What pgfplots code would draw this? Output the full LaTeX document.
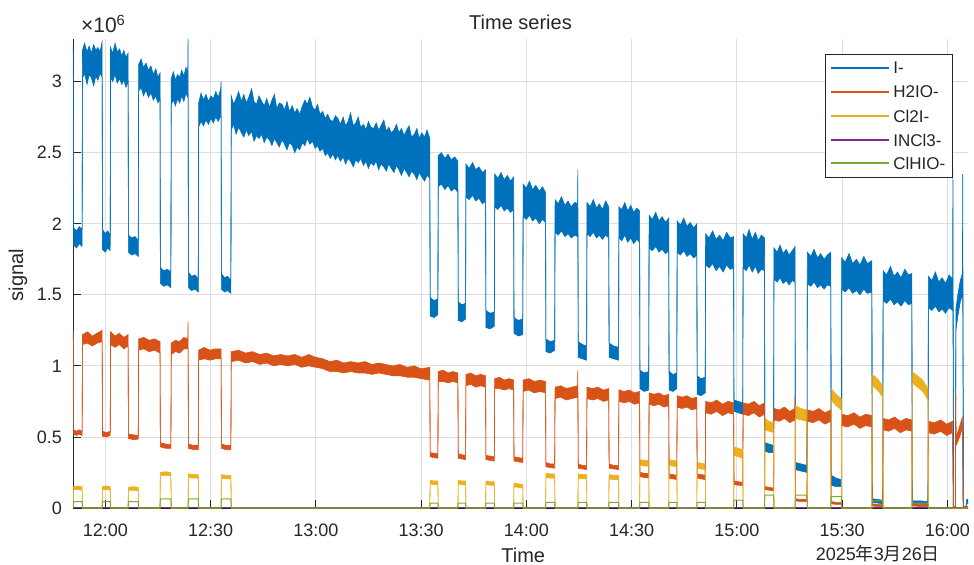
\documentclass[border=0pt]{standalone}
\usepackage{pgfplots}
\pgfplotsset{compat=1.18}
\usepgfplotslibrary{fillbetween}
\usepackage{fontspec}
\setmainfont{Liberation Sans}
\newfontfamily\cjk{Noto Sans CJK SC}
\definecolor{cI}{rgb}{0,0.447,0.741}
\definecolor{cH}{rgb}{0.85,0.325,0.098}
\definecolor{cC}{rgb}{0.929,0.694,0.125}
\definecolor{cN}{rgb}{0.494,0.184,0.556}
\definecolor{cG}{rgb}{0.466,0.674,0.188}
\definecolor{axc}{rgb}{0.15,0.15,0.15}
\begin{document}
\begin{tikzpicture}
\begin{axis}[
 at={(0,0)}, anchor=south west,
 scale only axis, width=447.5pt, height=234.5pt,
 xmin=-9.2, xmax=245.9, ymin=0, ymax=3.3,
 axis x line*=bottom, axis y line*=left,
 axis line style={-, draw=axc, line width=0.4pt},
 xtick={0,30,...,240},
 xticklabels={12:00,12:30,13:00,13:30,14:00,14:30,15:00,15:30,16:00},
 ytick={0,0.5,1,1.5,2,2.5,3}, yticklabels={0,0.5,1,1.5,2,2.5,3},
 tick align=inside, major tick length=4pt,
 tick style={draw=axc, line width=0.4pt},
 grid=major, major grid style={draw=black!13, line width=0.4pt},
 ticklabel style={font=\fontsize{9}{10}\selectfont, text=axc},
 xticklabel style={anchor=base, yshift=-14.5pt},
 yticklabel style={anchor=east, xshift=-2pt},
 clip=false,
]
% ---------------- I- ----------------
\addplot[name path=IU, draw=cI, line width=0.3pt, forget plot] coordinates {
(-9.12,3.25) (-9.0,1.97) (-8.2,1.95) (-7.4,1.98) (-6.6,1.96)
(-6.5,3.22) (-5.9,3.27) (-5.2,3.21) (-4.6,3.25) (-4.0,3.20) (-3.3,3.26) (-2.7,3.22) (-2.1,3.24) (-1.5,3.21) (-0.9,3.28)
(-0.8,1.96) (0.0,1.93) (0.7,1.95) (1.4,1.92)
(1.5,3.24) (2.1,3.20) (2.8,3.27) (3.4,3.21) (4.1,3.23) (4.7,3.18) (5.3,3.22) (5.9,3.17) (6.5,3.20)
(6.6,1.92) (7.5,1.90) (8.5,1.91) (9.4,1.88)
(9.5,3.12) (10.2,3.16) (10.9,3.10) (11.6,3.13) (12.3,3.08) (13.0,3.11) (13.7,3.05) (14.4,3.09) (15.0,3.03) (15.6,3.06)
(15.7,1.69) (16.7,1.67) (17.7,1.68) (18.7,1.66)
(18.8,3.02) (19.4,3.07) (20.0,3.01) (20.6,3.05) (21.2,3.03) (21.8,3.08) (22.4,3.04) (23.0,3.10) (23.5,3.06) (23.6,3.30)
(23.7,1.66) (24.6,1.63) (25.6,1.64) (26.5,1.61)
(26.6,2.85) (27.3,2.92) (28.0,2.87) (28.7,2.91) (29.4,2.86) (30.1,2.90) (30.8,2.88) (31.5,2.93) (32.2,2.89) (32.9,2.95) (33.0,3.00)
(33.1,1.65) (34.0,1.62) (34.9,1.63) (35.8,1.60)
(35.9,2.90) (36.6,2.84) (37.3,2.88) (38.0,2.93) (38.8,2.86) (39.5,2.91) (40.2,2.85) (40.9,2.89) (41.7,2.95) (42.4,2.86) (43.1,2.84) (43.8,2.90) (44.6,2.86) (45.3,2.83) (46.0,2.88) (46.8,2.82) (47.5,2.87) (48.2,2.91) (48.9,2.81) (49.6,2.85) (50.4,2.84) (51.1,2.80) (51.8,2.86) (52.5,2.79) (53.3,2.83) (54.0,2.78) (54.7,2.81) (55.4,2.77) (56.2,2.83) (56.9,2.87) (57.6,2.84) (58.3,2.89) (59.1,2.82) (59.8,2.80) (60.5,2.84) (61.2,2.77) (62.0,2.79) (62.7,2.74) (63.4,2.77) (64.1,2.73) (64.9,2.72) (65.6,2.76) (66.3,2.74) (67.0,2.70) (67.8,2.75) (68.5,2.69) (69.2,2.72) (69.9,2.78) (70.7,2.69) (71.4,2.71) (72.1,2.75) (72.8,2.68) (73.6,2.70) (74.3,2.66) (75.0,2.72) (75.7,2.68) (76.5,2.67) (77.2,2.71) (77.9,2.66) (78.6,2.69) (79.4,2.73) (80.1,2.65) (80.8,2.68) (81.5,2.64) (82.3,2.66) (83.0,2.70) (83.7,2.64) (84.4,2.67) (85.2,2.62) (85.9,2.66) (86.6,2.69) (87.3,2.61) (88.1,2.63) (88.8,2.67) (89.5,2.60) (90.2,2.64) (91.0,2.61) (91.7,2.66) (92.5,2.60)
(92.6,1.48) (93.7,1.46) (94.8,1.47)
(94.9,2.48) (95.8,2.50) (96.8,2.46) (97.7,2.49) (98.6,2.45) (99.6,2.47) (100.5,2.44)
(100.6,1.45) (101.6,1.43) (102.7,1.44)
(102.8,2.42) (103.7,2.39) (104.7,2.43) (105.6,2.38) (106.5,2.40) (107.5,2.36) (108.4,2.38)
(108.5,1.39) (109.7,1.37) (110.9,1.38)
(111.0,2.35) (111.9,2.32) (112.8,2.36) (113.7,2.31) (114.6,2.34) (115.5,2.30) (116.4,2.33)
(116.5,1.34) (117.7,1.32) (119.0,1.33)
(119.1,2.28) (120.0,2.25) (120.9,2.30) (121.8,2.24) (122.7,2.27) (123.7,2.23) (124.6,2.26) (125.5,2.22)
(125.6,1.19) (126.8,1.17) (128.1,1.18)
(128.2,2.17) (129.1,2.14) (130.0,2.19) (131.0,2.13) (131.9,2.16) (132.8,2.12) (133.8,2.15) (134.6,2.14) (134.7,2.38)
(134.8,1.17) (136.0,1.15) (137.2,1.14)
(137.3,2.15) (138.2,2.12) (139.1,2.17) (140.0,2.11) (140.8,2.14) (141.7,2.10) (142.6,2.16) (143.5,2.12)
(143.6,1.16) (144.9,1.14) (146.3,1.13)
(146.4,2.12) (147.2,2.10) (148.1,2.15) (148.9,2.09) (149.8,2.13) (150.6,2.08) (151.5,2.11) (152.3,2.09)
(152.4,0.97) (153.6,0.95) (154.9,0.96)
(155.0,2.06) (155.9,2.03) (156.9,2.08) (157.8,2.02) (158.7,2.05) (159.7,2.01) (160.6,2.04)
(160.7,0.96) (161.8,0.94) (162.9,0.95)
(163.0,2.02) (163.9,1.99) (164.9,2.04) (165.8,1.98) (166.7,2.01) (167.7,1.97) (168.6,2.00)
(168.7,0.93) (169.8,0.91) (171.0,0.92)
(171.1,1.93) (172.1,1.90) (173.1,1.95) (174.1,1.89) (175.1,1.92) (176.1,1.88) (177.1,1.94) (178.1,1.90) (179.1,1.91)
(179.2,0.76) (180.4,0.75) (181.7,0.74)
(181.8,1.93) (182.7,1.90) (183.5,1.96) (184.4,1.89) (185.3,1.94) (186.1,1.88) (187.0,1.92) (187.9,1.90)
(188.0,0.46) (189.2,0.45) (190.5,0.44)
(190.6,1.83) (191.5,1.80) (192.3,1.85) (193.2,1.79) (194.1,1.82) (194.9,1.78) (195.8,1.81) (196.6,1.84)
(196.7,0.32) (198.3,0.31) (200.0,0.30)
(200.1,1.80) (201.1,1.77) (202.0,1.82) (203.0,1.76) (203.9,1.79) (204.9,1.75) (205.8,1.78) (206.8,1.80)
(206.9,0.23) (208.3,0.21) (209.8,0.20)
(209.9,1.76) (210.9,1.73) (212.0,1.79) (213.0,1.72) (214.1,1.75) (215.1,1.71) (216.2,1.77) (217.2,1.72) (218.5,1.74)
(218.6,0.065) (220.1,0.06) (221.6,0.055)
(221.7,1.67) (222.7,1.64) (223.8,1.70) (224.8,1.63) (225.8,1.66) (226.8,1.62) (227.9,1.68) (228.9,1.64) (229.9,1.65)
(230.0,0.05) (232.2,0.05) (234.5,0.045)
(234.6,1.63) (235.6,1.60) (236.6,1.66) (237.6,1.59) (238.5,1.62) (239.5,1.58) (240.5,1.64) (241.5,1.61)
(241.6,2.39) (241.8,0.01) (242.3,0.01) (242.45,1.40) (243.0,1.50) (243.7,1.60) (244.3,1.65) (244.4,2.35) (244.6,0.01) (245.3,0.01) (245.5,0.06) (245.9,0.06)
};
\addplot[name path=IL, draw=cI, line width=0.3pt, forget plot] coordinates {
(-9.12,3.10) (-9.0,1.85) (-8.2,1.83) (-7.4,1.86) (-6.6,1.84)
(-6.5,3.02) (-5.9,3.06) (-5.2,2.98) (-4.6,3.05) (-4.0,3.03) (-3.3,2.97) (-2.7,3.04) (-2.1,3.01) (-1.5,3.06) (-0.9,3.03)
(-0.8,1.82) (0.0,1.80) (0.7,1.83) (1.4,1.81)
(1.5,3.03) (2.1,3.00) (2.8,3.05) (3.4,2.99) (4.1,3.02) (4.7,2.98) (5.3,3.01) (5.9,2.96) (6.5,3.00)
(6.6,1.80) (7.5,1.78) (8.5,1.79) (9.4,1.77)
(9.5,2.93) (10.2,2.96) (10.9,2.90) (11.6,2.94) (12.3,2.89) (13.0,2.92) (13.7,2.87) (14.4,2.90) (15.0,2.85) (15.6,2.88)
(15.7,1.58) (16.7,1.56) (17.7,1.57) (18.7,1.55)
(18.8,2.84) (19.4,2.87) (20.0,2.83) (20.6,2.88) (21.2,2.85) (21.8,2.90) (22.4,2.86) (23.0,2.92) (23.5,2.89) (23.6,2.92)
(23.7,1.55) (24.6,1.53) (25.6,1.54) (26.5,1.52)
(26.6,2.68) (27.3,2.72) (28.0,2.69) (28.7,2.73) (29.4,2.70) (30.1,2.74) (30.8,2.71) (31.5,2.75) (32.2,2.72) (32.9,2.76) (33.0,2.76)
(33.1,1.54) (34.0,1.52) (34.9,1.53) (35.8,1.51)
(35.9,2.66) (36.6,2.70) (37.3,2.63) (38.0,2.68) (38.8,2.64) (39.5,2.61) (40.2,2.66) (40.9,2.62) (41.7,2.65) (42.4,2.58) (43.1,2.62) (43.8,2.60) (44.6,2.63) (45.3,2.57) (46.0,2.61) (46.8,2.59) (47.5,2.55) (48.2,2.60) (48.9,2.57) (49.6,2.54) (50.4,2.59) (51.1,2.56) (51.8,2.52) (52.5,2.57) (53.3,2.55) (54.0,2.50) (54.7,2.54) (55.4,2.52) (56.2,2.57) (56.9,2.55) (57.6,2.60) (58.3,2.56) (59.1,2.58) (59.8,2.53) (60.5,2.55) (61.2,2.51) (62.0,2.53) (62.7,2.48) (63.4,2.50) (64.1,2.46) (64.9,2.49) (65.6,2.45) (66.3,2.48) (67.0,2.44) (67.8,2.47) (68.5,2.42) (69.2,2.46) (69.9,2.44) (70.7,2.40) (71.4,2.45) (72.1,2.43) (72.8,2.46) (73.6,2.41) (74.3,2.44) (75.0,2.39) (75.7,2.43) (76.5,2.41) (77.2,2.44) (77.9,2.38) (78.6,2.42) (79.4,2.40) (80.1,2.37) (80.8,2.42) (81.5,2.39) (82.3,2.36) (83.0,2.41) (83.7,2.38) (84.4,2.34) (85.2,2.39) (85.9,2.36) (86.6,2.33) (87.3,2.37) (88.1,2.35) (88.8,2.31) (89.5,2.36) (90.2,2.33) (91.0,2.30) (91.7,2.34) (92.5,2.32)
(92.6,1.35) (93.7,1.34) (94.8,1.36)
(94.9,2.26) (95.8,2.28) (96.8,2.24) (97.7,2.27) (98.6,2.23) (99.6,2.25) (100.5,2.22)
(100.6,1.32) (101.6,1.31) (102.7,1.33)
(102.8,2.19) (103.7,2.17) (104.7,2.20) (105.6,2.16) (106.5,2.18) (107.5,2.14) (108.4,2.16)
(108.5,1.27) (109.7,1.26) (110.9,1.28)
(111.0,2.12) (111.9,2.10) (112.8,2.13) (113.7,2.09) (114.6,2.11) (115.5,2.08) (116.4,2.10)
(116.5,1.23) (117.7,1.21) (119.0,1.22)
(119.1,2.05) (120.0,2.03) (120.9,2.06) (121.8,2.02) (122.7,2.04) (123.7,2.00) (124.6,2.03) (125.5,2.01)
(125.6,1.10) (126.8,1.09) (128.1,1.11)
(128.2,1.94) (129.1,1.92) (130.0,1.95) (131.0,1.91) (131.9,1.93) (132.8,1.90) (133.8,1.92) (134.6,1.91) (134.7,1.92)
(134.8,1.06) (136.0,1.05) (137.2,1.04)
(137.3,1.93) (138.2,1.91) (139.1,1.94) (140.0,1.90) (140.8,1.92) (141.7,1.89) (142.6,1.92) (143.5,1.90)
(143.6,1.06) (144.9,1.05) (146.3,1.04)
(146.4,1.90) (147.2,1.88) (148.1,1.92) (148.9,1.87) (149.8,1.90) (150.6,1.86) (151.5,1.89) (152.3,1.87)
(152.4,0.84) (153.6,0.82) (154.9,0.83)
(155.0,1.83) (155.9,1.81) (156.9,1.84) (157.8,1.80) (158.7,1.82) (159.7,1.79) (160.6,1.81)
(160.7,0.83) (161.8,0.82) (162.9,0.84)
(163.0,1.80) (163.9,1.78) (164.9,1.81) (165.8,1.77) (166.7,1.79) (167.7,1.76) (168.6,1.78)
(168.7,0.80) (169.8,0.79) (171.0,0.81)
(171.1,1.71) (172.1,1.69) (173.1,1.72) (174.1,1.67) (175.1,1.70) (176.1,1.66) (177.1,1.71) (178.1,1.68) (179.1,1.69)
(179.2,0.68) (180.4,0.67) (181.7,0.66)
(181.8,1.69) (182.7,1.67) (183.5,1.71) (184.4,1.66) (185.3,1.70) (186.1,1.65) (187.0,1.68) (187.9,1.67)
(188.0,0.40) (189.2,0.39) (190.5,0.39)
(190.6,1.61) (191.5,1.59) (192.3,1.62) (193.2,1.58) (194.1,1.60) (194.9,1.57) (195.8,1.60) (196.6,1.59)
(196.7,0.27) (198.3,0.26) (200.0,0.25)
(200.1,1.58) (201.1,1.56) (202.0,1.59) (203.0,1.55) (203.9,1.57) (204.9,1.54) (205.8,1.57) (206.8,1.56)
(206.9,0.16) (208.3,0.15) (209.8,0.15)
(209.9,1.54) (210.9,1.52) (212.0,1.55) (213.0,1.51) (214.1,1.53) (215.1,1.50) (216.2,1.54) (217.2,1.51) (218.5,1.52)
(218.6,0.04) (220.1,0.035) (221.6,0.03)
(221.7,1.46) (222.7,1.44) (223.8,1.47) (224.8,1.43) (225.8,1.45) (226.8,1.42) (227.9,1.46) (228.9,1.43) (229.9,1.44)
(230.0,0.03) (232.2,0.03) (234.5,0.025)
(234.6,1.41) (235.6,1.39) (236.6,1.42) (237.6,1.38) (238.5,1.40) (239.5,1.37) (240.5,1.41) (241.5,1.39)
(241.6,1.40) (241.8,0.0) (242.3,0.0) (242.45,1.25) (243.0,1.35) (243.7,1.45) (244.3,1.50) (244.4,1.50) (244.6,0.0) (245.3,0.0) (245.5,0.03) (245.9,0.03)
};
\addplot[fill=cI, draw=none, forget plot] fill between[of=IU and IL];
% ---------------- H2IO- ----------------
\addplot[name path=HU, draw=cH, line width=0.3pt, forget plot] coordinates {
(-9.12,1.25) (-9.0,0.55) (-8.2,0.54) (-7.4,0.55) (-6.6,0.54)
(-6.5,1.22) (-5.1,1.24) (-3.7,1.21) (-2.3,1.23) (-0.9,1.25)
(-0.8,0.54) (0.3,0.53) (1.4,0.54)
(1.5,1.24) (2.8,1.21) (4.0,1.23) (5.3,1.20) (6.5,1.22)
(6.6,0.52) (8.0,0.515) (9.4,0.51)
(9.5,1.19) (11.0,1.20) (12.5,1.18) (14.1,1.19) (15.6,1.17)
(15.7,0.46) (17.2,0.45) (18.7,0.445)
(18.8,1.16) (20.0,1.18) (21.2,1.17) (22.4,1.20) (23.5,1.19) (23.6,1.31)
(23.7,0.45) (25.1,0.44) (26.5,0.44)
(26.6,1.11) (28.2,1.13) (29.8,1.11) (31.4,1.12) (33.0,1.12)
(33.1,0.45) (34.5,0.44) (35.8,0.44)
(35.9,1.10) (38.0,1.11) (40.0,1.09) (42.0,1.10) (44.0,1.08) (46.0,1.09) (48.0,1.07) (50.0,1.08) (52.0,1.07) (54.0,1.08) (56.0,1.06) (58.0,1.08) (60.0,1.06) (62.0,1.05) (64.0,1.03) (66.0,1.04) (68.0,1.02) (70.0,1.03) (72.0,1.02) (74.0,1.03) (76.0,1.01) (78.0,1.02) (80.0,1.01) (82.0,1.00) (84.0,1.01) (86.0,0.99) (88.0,1.00) (90.0,0.98) (92.5,0.99)
(92.6,0.39) (93.7,0.385) (94.8,0.38)
(94.9,0.96) (96.3,0.97) (97.7,0.95) (99.1,0.96) (100.5,0.95)
(100.6,0.38) (101.6,0.375) (102.7,0.37)
(102.8,0.94) (104.2,0.95) (105.6,0.93) (107.0,0.94) (108.4,0.93)
(108.5,0.37) (109.7,0.365) (110.9,0.36)
(111.0,0.91) (112.4,0.92) (113.7,0.90) (115.1,0.91) (116.4,0.90)
(116.5,0.36) (117.7,0.355) (119.0,0.35)
(119.1,0.90) (120.7,0.91) (122.3,0.89) (123.9,0.90) (125.5,0.89)
(125.6,0.32) (126.8,0.31) (128.1,0.31)
(128.2,0.85) (129.8,0.86) (131.4,0.84) (133.0,0.85) (134.6,0.86) (134.7,0.97)
(134.8,0.31) (136.0,0.30) (137.2,0.30)
(137.3,0.85) (138.9,0.84) (140.4,0.85) (142.0,0.83) (143.5,0.84)
(143.6,0.31) (144.9,0.30) (146.3,0.30)
(146.4,0.83) (147.9,0.82) (149.4,0.83) (150.8,0.81) (152.3,0.82)
(152.4,0.25) (153.6,0.245) (154.9,0.24)
(155.0,0.81) (156.4,0.80) (157.8,0.81) (159.2,0.79) (160.6,0.80)
(160.7,0.24) (161.8,0.235) (162.9,0.23)
(163.0,0.79) (164.4,0.78) (165.8,0.79) (167.2,0.77) (168.6,0.78)
(168.7,0.24) (169.8,0.235) (171.0,0.23)
(171.1,0.75) (172.7,0.74) (174.3,0.76) (175.9,0.73) (177.5,0.75) (179.1,0.74)
(179.2,0.19) (180.4,0.185) (181.7,0.18)
(181.8,0.74) (183.3,0.73) (184.9,0.75) (186.4,0.72) (187.9,0.74)
(188.0,0.15) (189.2,0.145) (190.5,0.14)
(190.6,0.70) (192.1,0.69) (193.6,0.71) (195.1,0.68) (196.5,0.70) (196.6,0.79)
(196.7,0.065) (198.3,0.06) (200.0,0.06)
(200.1,0.69) (201.8,0.68) (203.4,0.70) (205.1,0.67) (206.8,0.69)
(206.9,0.045) (208.3,0.04) (209.8,0.04)
(209.9,0.66) (211.6,0.65) (213.4,0.67) (215.1,0.64) (216.8,0.66) (218.5,0.65)
(218.6,0.03) (220.1,0.025) (221.6,0.025)
(221.7,0.63) (223.3,0.62) (225.0,0.64) (226.6,0.61) (228.3,0.63) (229.9,0.62)
(230.0,0.03) (232.2,0.025) (234.5,0.025)
(234.6,0.61) (236.3,0.60) (238.1,0.62) (239.8,0.59) (241.5,0.61)
(241.7,0.01) (242.3,0.01) (242.4,0.80) (242.5,0.50) (243.2,0.55) (243.8,0.60) (244.3,0.64) (244.5,0.01) (245.9,0.01)
};
\addplot[name path=HL, draw=cH, line width=0.3pt, forget plot] coordinates {
(-9.12,1.21) (-9.0,0.52) (-8.2,0.51) (-7.4,0.52) (-6.6,0.51)
(-6.5,1.15) (-5.1,1.16) (-3.7,1.14) (-2.3,1.16) (-0.9,1.17)
(-0.8,0.505) (0.3,0.50) (1.4,0.51)
(1.5,1.15) (2.8,1.13) (4.0,1.15) (5.3,1.12) (6.5,1.14)
(6.6,0.49) (8.0,0.48) (9.4,0.485)
(9.5,1.11) (11.0,1.12) (12.5,1.10) (14.1,1.11) (15.6,1.09)
(15.7,0.43) (17.2,0.42) (18.7,0.42)
(18.8,1.08) (20.0,1.10) (21.2,1.09) (22.4,1.12) (23.5,1.12) (23.6,1.12)
(23.7,0.42) (25.1,0.41) (26.5,0.41)
(26.6,1.04) (28.2,1.05) (29.8,1.04) (31.4,1.05) (33.0,1.05)
(33.1,0.42) (34.5,0.41) (35.8,0.41)
(35.9,1.03) (38.0,1.04) (40.0,1.02) (42.0,1.03) (44.0,1.01) (46.0,1.02) (48.0,1.00) (50.0,1.01) (52.0,1.00) (54.0,1.01) (56.0,0.99) (58.0,1.00) (60.0,0.99) (62.0,0.98) (64.0,0.96) (66.0,0.96) (68.0,0.95) (70.0,0.96) (72.0,0.95) (74.0,0.95) (76.0,0.94) (78.0,0.95) (80.0,0.94) (82.0,0.93) (84.0,0.93) (86.0,0.92) (88.0,0.92) (90.0,0.91) (92.5,0.90)
(92.6,0.36) (93.7,0.355) (94.8,0.35)
(94.9,0.89) (96.3,0.89) (97.7,0.88) (99.1,0.89) (100.5,0.88)
(100.6,0.35) (101.6,0.345) (102.7,0.34)
(102.8,0.86) (104.2,0.87) (105.6,0.85) (107.0,0.86) (108.4,0.85)
(108.5,0.34) (109.7,0.335) (110.9,0.33)
(111.0,0.84) (112.4,0.84) (113.7,0.83) (115.1,0.84) (116.4,0.83)
(116.5,0.33) (117.7,0.325) (119.0,0.32)
(119.1,0.82) (120.7,0.83) (122.3,0.81) (123.9,0.82) (125.5,0.81)
(125.6,0.29) (126.8,0.285) (128.1,0.28)
(128.2,0.77) (129.8,0.78) (131.4,0.76) (133.0,0.77) (134.6,0.78) (134.7,0.78)
(134.8,0.28) (136.0,0.275) (137.2,0.27)
(137.3,0.77) (138.9,0.76) (140.4,0.77) (142.0,0.75) (143.5,0.76)
(143.6,0.28) (144.9,0.275) (146.3,0.27)
(146.4,0.75) (147.9,0.74) (149.4,0.75) (150.8,0.73) (152.3,0.74)
(152.4,0.22) (153.6,0.215) (154.9,0.21)
(155.0,0.73) (156.4,0.72) (157.8,0.73) (159.2,0.71) (160.6,0.72)
(160.7,0.21) (161.8,0.205) (162.9,0.20)
(163.0,0.71) (164.4,0.70) (165.8,0.71) (167.2,0.69) (168.6,0.70)
(168.7,0.21) (169.8,0.205) (171.0,0.20)
(171.1,0.67) (172.7,0.66) (174.3,0.68) (175.9,0.65) (177.5,0.67) (179.1,0.66)
(179.2,0.165) (180.4,0.16) (181.7,0.16)
(181.8,0.66) (183.3,0.65) (184.9,0.67) (186.4,0.64) (187.9,0.66)
(188.0,0.13) (189.2,0.125) (190.5,0.12)
(190.6,0.62) (192.1,0.61) (193.6,0.63) (195.1,0.60) (196.5,0.62) (196.6,0.62)
(196.7,0.05) (198.3,0.045) (200.0,0.045)
(200.1,0.61) (201.8,0.60) (203.4,0.62) (205.1,0.59) (206.8,0.61)
(206.9,0.03) (208.3,0.025) (209.8,0.025)
(209.9,0.58) (211.6,0.57) (213.4,0.59) (215.1,0.56) (216.8,0.58) (218.5,0.57)
(218.6,0.015) (220.1,0.01) (221.6,0.01)
(221.7,0.55) (223.3,0.54) (225.0,0.56) (226.6,0.53) (228.3,0.55) (229.9,0.54)
(230.0,0.015) (232.2,0.01) (234.5,0.01)
(234.6,0.53) (236.3,0.52) (238.1,0.54) (239.8,0.51) (241.5,0.53)
(241.7,0.0) (242.3,0.0) (242.4,0.78) (242.5,0.44) (243.2,0.48) (243.8,0.52) (244.3,0.57) (244.5,0.0) (245.9,0.0)
};
\addplot[fill=cH, draw=none, forget plot] fill between[of=HU and HL];
% ---------------- Cl2I- ----------------
\addplot[name path=CU, draw=cC, line width=0.3pt, forget plot] coordinates {
(-9.12,0) (-9.0,0.15) (-7.8,0.155) (-6.6,0.15) (-6.5,0) (-0.9,0)
(-0.8,0.15) (0.3,0.155) (1.4,0.15) (1.5,0) (6.5,0)
(6.6,0.145) (8.0,0.15) (9.4,0.145) (9.5,0) (15.6,0)
(15.7,0.25) (17.2,0.255) (18.7,0.25) (18.8,0) (23.6,0)
(23.7,0.24) (25.1,0.235) (26.5,0.235) (26.6,0) (33.0,0)
(33.1,0.235) (34.5,0.23) (35.8,0.23) (35.9,0) (92.5,0)
(92.6,0.195) (93.7,0.19) (94.8,0.19) (94.9,0) (100.5,0)
(100.6,0.195) (101.6,0.19) (102.7,0.19) (102.8,0) (108.4,0)
(108.5,0.19) (109.7,0.185) (110.9,0.185) (111.0,0) (116.4,0)
(116.5,0.175) (117.7,0.17) (119.0,0.165) (119.1,0) (125.5,0)
(125.6,0.245) (126.8,0.24) (128.1,0.24) (128.2,0) (134.7,0)
(134.8,0.24) (136.0,0.235) (137.2,0.235) (137.3,0) (143.5,0)
(143.6,0.235) (144.9,0.23) (146.3,0.23) (146.4,0) (152.3,0)
(152.4,0.34) (153.6,0.335) (154.9,0.335) (155.0,0) (160.6,0)
(160.7,0.34) (161.8,0.335) (162.9,0.33) (163.0,0) (168.6,0)
(168.7,0.32) (169.8,0.315) (171.0,0.31) (171.1,0) (179.1,0)
(179.2,0.43) (180.4,0.42) (181.7,0.41) (181.8,0) (187.9,0)
(188.0,0.63) (189.2,0.61) (190.5,0.60) (190.6,0) (196.6,0)
(196.7,0.72) (198.3,0.70) (200.0,0.69) (200.1,0) (206.8,0)
(206.9,0.84) (208.3,0.80) (209.8,0.77) (209.9,0) (218.5,0)
(218.6,0.94) (220.1,0.91) (221.6,0.86) (221.7,0) (229.9,0)
(230.0,0.96) (231.5,0.93) (233.0,0.90) (234.5,0.84) (234.6,0) (245.9,0)
};
\addplot[name path=CL, draw=cC, line width=0.3pt, forget plot] coordinates {
(-9.12,0) (-9.0,0.13) (-7.8,0.13) (-6.6,0.125) (-6.5,0) (-0.9,0)
(-0.8,0.13) (0.3,0.13) (1.4,0.125) (1.5,0) (6.5,0)
(6.6,0.125) (8.0,0.125) (9.4,0.12) (9.5,0) (15.6,0)
(15.7,0.23) (17.2,0.23) (18.7,0.225) (18.8,0) (23.6,0)
(23.7,0.215) (25.1,0.21) (26.5,0.21) (26.6,0) (33.0,0)
(33.1,0.21) (34.5,0.205) (35.8,0.205) (35.9,0) (92.5,0)
(92.6,0.17) (93.7,0.165) (94.8,0.165) (94.9,0) (100.5,0)
(100.6,0.17) (101.6,0.165) (102.7,0.165) (102.8,0) (108.4,0)
(108.5,0.165) (109.7,0.16) (110.9,0.16) (111.0,0) (116.4,0)
(116.5,0.15) (117.7,0.145) (119.0,0.14) (119.1,0) (125.5,0)
(125.6,0.215) (126.8,0.21) (128.1,0.21) (128.2,0) (134.7,0)
(134.8,0.21) (136.0,0.205) (137.2,0.205) (137.3,0) (143.5,0)
(143.6,0.205) (144.9,0.20) (146.3,0.20) (146.4,0) (152.3,0)
(152.4,0.30) (153.6,0.295) (154.9,0.295) (155.0,0) (160.6,0)
(160.7,0.30) (161.8,0.295) (162.9,0.29) (163.0,0) (168.6,0)
(168.7,0.28) (169.8,0.275) (171.0,0.27) (171.1,0) (179.1,0)
(179.2,0.37) (180.4,0.36) (181.7,0.35) (181.8,0) (187.9,0)
(188.0,0.55) (189.2,0.54) (190.5,0.53) (190.6,0) (196.6,0)
(196.7,0.63) (198.3,0.62) (200.0,0.61) (200.1,0) (206.8,0)
(206.9,0.76) (208.3,0.72) (209.8,0.69) (209.9,0) (218.5,0)
(218.6,0.86) (220.1,0.83) (221.6,0.78) (221.7,0) (229.9,0)
(230.0,0.88) (231.5,0.85) (233.0,0.82) (234.5,0.76) (234.6,0) (245.9,0)
};
\addplot[fill=cC, draw=none, forget plot] fill between[of=CU and CL];
% ---------------- INCl3- ----------------
\addplot[draw=cN, line width=0.5pt, forget plot] coordinates {(-9.12,0) (245.9,0)};
% ---------------- ClHIO- ----------------
\addplot[draw=cG, line width=0.5pt, forget plot] coordinates {
(-9.12,0) (-9.0,0.045) (-6.6,0.045) (-6.5,0) (-0.9,0) (-0.8,0.045) (1.4,0.045) (1.5,0) (6.5,0)
(6.6,0.045) (9.4,0.045) (9.5,0) (15.6,0) (15.7,0.065) (18.7,0.065) (18.8,0) (23.6,0)
(23.7,0.065) (26.5,0.065) (26.6,0) (33.0,0) (33.1,0.065) (35.8,0.065) (35.9,0) (92.5,0)
(92.6,0.035) (94.8,0.035) (94.9,0) (100.5,0) (100.6,0.035) (102.7,0.035) (102.8,0) (108.4,0)
(108.5,0.035) (110.9,0.035) (111.0,0) (116.4,0) (116.5,0.035) (119.0,0.035) (119.1,0) (125.5,0)
(125.6,0.04) (128.1,0.04) (128.2,0) (134.7,0) (134.8,0.04) (137.2,0.04) (137.3,0) (143.5,0)
(143.6,0.04) (146.3,0.04) (146.4,0) (152.3,0) (152.4,0.04) (154.9,0.04) (155.0,0) (160.6,0)
(160.7,0.04) (162.9,0.04) (163.0,0) (168.6,0) (168.7,0.04) (171.0,0.04) (171.1,0) (179.1,0)
(179.2,0.056) (181.7,0.056) (181.8,0) (187.9,0) (188.0,0.09) (190.5,0.09) (190.6,0) (196.6,0)
(196.7,0.09) (200.0,0.09) (200.1,0) (206.8,0) (206.9,0.08) (209.8,0.08) (209.9,0) (218.5,0)
(218.6,0.05) (221.6,0.05) (221.7,0) (229.9,0) (230.0,0.035) (234.5,0.035) (234.6,0) (245.9,0)
};
% ---------------- legend (drawn box) ----------------
\draw[draw=axc, line width=0.4pt, fill=white] (rel axis cs:0.8402,0.7058) rectangle (rel axis cs:0.9821,0.9680);
\draw[cI, line width=0.6pt] (rel axis cs:0.8469,0.9382) -- (rel axis cs:0.9117,0.9382);
\draw[cH, line width=0.6pt] (rel axis cs:0.8469,0.8870) -- (rel axis cs:0.9117,0.8870);
\draw[cC, line width=0.6pt] (rel axis cs:0.8469,0.8358) -- (rel axis cs:0.9117,0.8358);
\draw[cN, line width=0.6pt] (rel axis cs:0.8469,0.7846) -- (rel axis cs:0.9117,0.7846);
\draw[cG, line width=0.6pt] (rel axis cs:0.8469,0.7356) -- (rel axis cs:0.9117,0.7356);
\begin{scope}[every node/.style={anchor=west, inner sep=0pt, font=\fontsize{8.5}{10}\selectfont, text=axc}]
\node at (rel axis cs:0.9162,0.9382) {I-};
\node at (rel axis cs:0.9162,0.8870) {H2IO-};
\node at (rel axis cs:0.9162,0.8358) {Cl2I-};
\node at (rel axis cs:0.9162,0.7846) {INCl3-};
\node at (rel axis cs:0.9162,0.7356) {ClHIO-};
\end{scope}
\node[anchor=base west, font=\fontsize{10.5}{12}\selectfont, text=axc, xshift=0.5pt, yshift=3pt] at (rel axis cs:0,1) {×10\textsuperscript{6}};
\node[anchor=base east, font=\fontsize{9}{10}\selectfont, text=axc, yshift=-26.5pt] at (rel axis cs:0.9765,0) {2025{\cjk 年}3{\cjk 月}26{\cjk 日}};
\node[anchor=base, font=\fontsize{10}{12}\selectfont, text=axc, yshift=4.5pt] at (rel axis cs:0.5,1) {Time series};
\node[anchor=base, font=\fontsize{10}{12}\selectfont, text=axc, yshift=-27.5pt] at (rel axis cs:0.503,0) {Time};
\node[anchor=center, rotate=90, font=\fontsize{10}{12}\selectfont, text=axc, yshift=27.5pt] at (rel axis cs:0,0.497) {signal};
\end{axis}
\pgfresetboundingbox
\path[use as bounding box] (-36.5pt,-28.5pt) rectangle (450.5pt,254pt);
\end{tikzpicture}
\end{document}
